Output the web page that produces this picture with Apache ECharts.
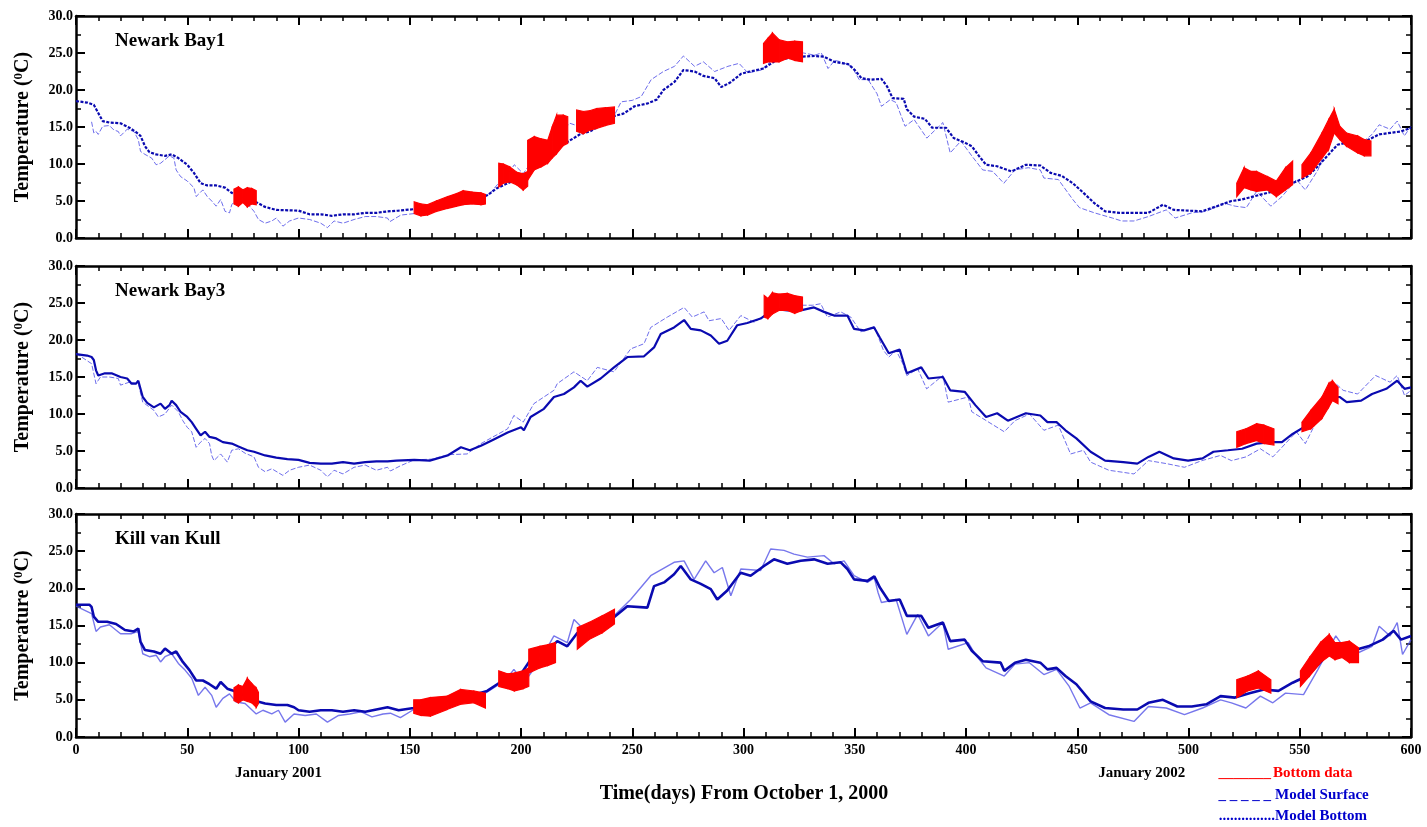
<!DOCTYPE html>
<html>
<head>
<meta charset="utf-8">
<title>Water temperature: model vs. bottom observations</title>
<script src="https://cdn.jsdelivr.net/npm/echarts@6/dist/echarts.min.js"></script>
<style>
  html, body { margin: 0; padding: 0; background: #fff; }
  #chart { width: 1427px; height: 827px; }
</style>
</head>
<body>
<div id="chart"></div>
<script>
// ---- Station names ----
const stations = ['Newark Bay1', 'Newark Bay3', 'Kill van Kull'];

// ---- Axis ticks ----
const xTicks = [0, 50, 100, 150, 200, 250, 300, 350, 400, 450, 500, 550, 600];
const yTicks = [0, 5, 10, 15, 20, 25, 30];
const monthMarks = [['January 2001', 91], ['January 2002', 479]];

// ---- Newark Bay1: [day, temperature °C] ----
const bay1Bottom = [[0,18.5],[5,18.3],[8,18.0],[10,16.9],[12,15.8],[15,15.6],[20,15.5],[24,14.9],[27,14.3],[29,13.8],[31,12.4],[33,11.6],[36,11.3],[40,11.1],[43,11.3],[46,10.8],[50,9.9],[53,8.8],[56,7.4],[59,7.1],[63,7.1],[67,6.8],[70,6.1],[75,5.5],[80,5.0],[85,4.2],[90,3.8],[100,3.7],[105,3.2],[110,3.2],[115,3.0],[120,3.2],[125,3.2],[130,3.4],[135,3.4],[140,3.6],[145,3.7],[152,3.9],[159,4.0],[167,4.6],[174,5.1],[182,5.4],[185,5.8],[189,6.7],[197,7.8],[203,8.7],[207,10.1],[212,10.8],[216,12.3],[221,13.0],[227,14.1],[231,14.4],[236,15.3],[242,16.5],[246,16.8],[251,17.8],[257,18.2],[261,18.7],[264,20.0],[269,21.1],[273,22.7],[278,22.5],[282,21.9],[287,21.6],[290,20.4],[294,21.0],[299,22.2],[303,22.5],[309,22.9],[315,24.1],[320,24.3],[326,24.5],[332,24.6],[336,24.5],[341,23.8],[347,23.5],[350,22.7],[353,21.6],[357,21.4],[362,21.5],[364.5,20.5],[367,18.9],[372,18.8],[373.4,17.4],[376.7,16.4],[381.5,16.1],[384.8,14.9],[391,14.9],[394.5,13.5],[399.4,12.9],[402.6,12.4],[405.8,11.1],[409,9.9],[414,9.7],[420.4,9.0],[427,9.9],[433.4,9.8],[438,8.8],[443,8.4],[448,7.4],[452.8,6.1],[457.7,4.7],[462.6,3.6],[469,3.4],[475.5,3.4],[482,3.4],[488.5,4.5],[493.4,3.8],[499.8,3.7],[506,3.6],[512.8,4.3],[519.3,5.0],[524,5.2],[529,5.6],[535.5,6.1],[540.4,6.5],[546.8,7.4],[553.3,8.3],[558.2,9.7],[563,11.3],[567,12.6],[571,12.9],[576,12.6],[581,13.3],[585.7,14.0],[590.6,14.2],[595.5,14.4],[600,14.9]];
const bay1Surface = [[7,15.7],[8,14.2],[9,14.4],[10,14.0],[12,15.1],[15,15.2],[17,14.6],[19,14.4],[20,13.8],[23,14.7],[26,14.4],[28,13.3],[29,11.7],[31,11.3],[34,10.8],[36,9.9],[38,10.1],[40,10.6],[42,11.1],[44,10.8],[45,9.2],[47,8.3],[50,7.7],[53,6.8],[54,5.6],[57,6.5],[59,5.6],[61,5.0],[63,4.3],[65,5.2],[67,3.6],[69,3.4],[70,4.5],[72,5.2],[75,5.0],[78,4.3],[80,3.6],[82,2.5],[85,2.0],[88,2.3],[90,2.7],[93,1.6],[96,2.3],[100,2.7],[105,2.5],[110,2.0],[113,1.4],[116,2.3],[120,2.0],[125,2.5],[130,2.9],[135,2.9],[140,2.7],[141,2.2],[146,3.1],[152,3.3],[160,4.0],[168,4.6],[176,5.2],[183,5.5],[186,6.0],[191,7.8],[194,8.6],[197,9.9],[201,8.7],[206,10.8],[212,12.6],[217,14.0],[222,15.5],[227,15.0],[232,15.6],[237,16.0],[242,16.6],[245,18.4],[250,18.6],[254,19.1],[258.5,21.4],[264,22.5],[269,23.2],[273,24.6],[278,23.2],[282,23.8],[287,22.5],[293,23.2],[298,23.6],[302,22.3],[308,22.7],[312,23.8],[320,24.5],[327,25.0],[332,24.7],[335,25.0],[338,22.9],[341,24.0],[344,23.8],[348.6,23.2],[352,21.4],[356,21.4],[360,19.5],[362,17.8],[366,18.7],[368.6,18.3],[372.6,15.1],[376.7,16.0],[382.4,13.5],[389.6,15.6],[392.9,11.5],[397.7,13.1],[402.6,11.1],[407.5,9.2],[412,9.0],[417,7.4],[422,9.2],[428,9.5],[433.4,9.2],[435,8.1],[441.5,7.9],[448,5.2],[451,4.1],[457.7,3.4],[465.8,2.7],[470,2.3],[475.5,2.3],[482,2.9],[490,3.8],[494,2.7],[501.5,3.4],[508,3.6],[516,4.7],[521,4.3],[526,4.1],[530.6,6.3],[537,4.3],[542,5.6],[548.5,7.9],[552.5,6.5],[558.2,9.2],[564.7,14.2],[569.5,13.8],[576,12.4],[582.5,14.0],[585.7,15.3],[590.6,14.7],[593.8,15.8],[597,13.8],[600,15.1]];
// observed bottom temperature: segments of [day, low, high] (tidal range)
const bay1Obs = [
  [[71,4.6,6.6],[73,4.3,6.9],[75,4.8,6.5],[77,4.2,6.8],[79,4.6,6.7],[81,4.5,6.4]],
  [[152,3.3,4.9],[155,3.0,4.6],[158,3.1,4.5],[162,3.6,5.0],[167,4.0,5.6],[171,4.3,6.0],[174,4.5,6.4],[178,4.6,6.2],[182,4.5,6.1],[184,4.6,5.9]],
  [[190,6.9,10.1],[192,7.4,10.0],[195,7.6,9.6],[198,7.2,8.9],[201,6.5,8.7],[203,7.0,9.0]],
  [[203,7.8,13.2],[206,9.2,13.7],[209,9.6,13.4],[212,10.1,13.2],[214,10.8,15.0],[216,11.4,16.6],[219,12.5,16.6],[221,12.8,16.4]],
  [[225,14.4,17.3],[228,14.1,17.1],[231,14.6,17.2],[234,14.8,17.5],[238,15.2,17.6],[242,15.5,17.7]],
  [[309,23.6,26.3],[311,23.8,27.0],[313,23.8,27.7],[316,23.8,26.8],[320,24.3,26.5],[323,24.0,26.6],[326.5,23.8,26.5]],
  [[521.7,5.6,7.4],[525,6.8,9.5],[528,6.5,9.0],[530.6,6.3,9.0],[535.5,6.5,8.3],[539.5,5.6,7.7],[543.6,6.5,9.5],[546.8,7.2,10.4]],
  [[551,8.1,9.9],[555,8.8,11.5],[560,10.8,14.2],[563,12.0,16.0],[565.5,14.2,17.4],[568,13.3,15.1],[571,12.4,14.2],[576,11.5,13.8],[579,11.1,13.3],[582,11.1,13.1]]
];

// ---- Newark Bay3 ----
const bay3Bottom = [[0,18.1],[5,17.9],[7,17.7],[8,17.3],[9,15.9],[10,15.2],[13,15.5],[16,15.5],[20,15.0],[23,14.8],[25,14.1],[27,14.1],[28,14.5],[30,12.3],[32,11.5],[35,10.9],[38,11.4],[40,10.7],[42,11.2],[43,11.8],[45,11.2],[47,10.3],[50,9.6],[52,8.9],[54,8.0],[56,7.1],[58,7.6],[60,6.9],[63,6.7],[66,6.2],[70,6.0],[73,5.6],[77,5.1],[80,4.9],[85,4.4],[90,4.1],[95,3.9],[100,3.8],[105,3.4],[110,3.3],[115,3.3],[120,3.5],[125,3.3],[130,3.5],[135,3.6],[140,3.6],[144,3.7],[152,3.8],[159,3.7],[167,4.4],[173,5.5],[177,5.1],[182,5.7],[188,6.6],[194,7.5],[200,8.2],[201.3,7.8],[204.3,9.6],[210.3,10.7],[214.8,12.3],[219.3,12.7],[223.8,13.6],[226.8,14.5],[229.8,13.7],[235.8,14.8],[241.8,16.3],[247.8,17.7],[255.3,17.8],[259.8,19.0],[262.8,20.8],[268.8,21.7],[273.3,22.7],[276.3,21.5],[280.8,21.3],[285.3,20.6],[289,19.5],[292.7,19.9],[297.2,22.0],[301.7,22.3],[307.7,22.9],[313.7,24.2],[319.7,24.0],[325.7,24.0],[331.7,24.4],[336.2,23.8],[340.7,23.3],[346.7,23.3],[349.7,21.5],[354.2,21.3],[358.7,21.7],[361.3,20.3],[365.3,18.2],[370.2,18.7],[373.4,15.5],[379.9,16.3],[383.1,14.8],[389.6,15.0],[392.9,13.2],[399.4,13.0],[404.2,11.2],[409,9.6],[414,10.1],[418.8,9.1],[426.9,10.1],[433.4,9.8],[436.6,8.9],[440.7,8.9],[444.7,7.8],[449.6,6.7],[456,4.9],[462.5,3.7],[470.7,3.5],[477,3.3],[482,4.2],[486.9,4.9],[493.4,4.0],[499.8,3.7],[506.3,4.0],[511.2,4.9],[517.7,5.1],[524.1,5.3],[530.6,6.0],[537.1,6.2],[542,6.2],[546.8,7.3],[553.3,8.5],[559.8,10.0],[564.6,12.3],[567.9,12.3],[571.1,11.6],[577.6,11.8],[582.5,12.7],[588.9,13.4],[593.8,14.5],[597.1,13.4],[600,13.6]];
const bay3Surface = [[0,18.2],[7,16.8],[9,14.1],[11,15.0],[15,15.0],[19,14.8],[20,13.9],[24,14.3],[28,14.1],[30,11.6],[35,10.5],[37,9.6],[40,10.0],[43,11.2],[46,10.3],[48,9.1],[50,8.2],[52,7.6],[54,5.5],[56,6.2],[58,6.7],[60,6.0],[61,4.4],[62,3.7],[65,4.6],[68,3.5],[70,5.1],[73,5.3],[76,4.7],[80,4.2],[82,2.8],[85,2.2],[88,2.6],[93,1.7],[96,2.4],[100,2.8],[105,3.1],[110,2.4],[113,1.5],[116,2.4],[120,1.9],[125,2.8],[130,3.1],[135,2.4],[140,2.8],[141.3,2.3],[145.8,3.0],[152,3.8],[160,3.9],[167,4.5],[175.8,4.6],[182,6.0],[194,8.0],[196.8,9.8],[201,8.9],[205.8,11.4],[214.8,13.2],[216.3,14.1],[223.8,15.7],[229.8,14.5],[234.3,16.3],[241.8,15.7],[249.3,18.8],[255.3,19.5],[258.3,21.7],[265.8,23.1],[273.3,24.4],[277,23.1],[282.3,23.8],[284.5,22.6],[290,22.9],[293.5,21.3],[298.8,23.3],[304.8,22.4],[309.3,23.3],[317,24.4],[326,24.7],[331,24.7],[334.7,24.9],[337.7,23.1],[343.7,23.8],[348.2,23.1],[352.7,21.1],[358.8,21.8],[362.9,18.6],[365.3,17.7],[368.6,18.6],[371.6,16.8],[373.4,15.2],[378.3,16.1],[382.3,13.4],[389.6,15.2],[392,11.6],[401,12.3],[402.6,10.3],[407.5,9.4],[417.2,7.6],[422,9.1],[428.5,10.0],[435,7.8],[441.5,8.5],[447,4.6],[452.8,5.1],[456,3.5],[464.2,2.4],[475.5,1.9],[482,3.7],[490,3.3],[498.2,2.8],[506,3.7],[514.4,4.4],[519.3,3.7],[525.8,4.2],[532.3,5.3],[537.9,4.2],[542,5.5],[548.5,7.6],[552.5,6.0],[558.2,9.4],[566.2,14.1],[569.5,13.2],[576,12.7],[584.1,15.2],[590.6,14.3],[593.8,15.2],[597.1,12.5],[600,13.2]];
const bay3Obs = [
  [[309.3,23.1,26.0],[311,22.9,25.6],[313,23.5,26.4],[316,24.0,26.2],[319.7,24.0,26.3],[323,23.6,26.0],[326.5,24.0,25.8]],
  [[521.7,5.5,7.6],[525.8,6.0,8.0],[530.6,6.4,8.7],[533.9,6.0,8.5],[538.4,5.8,8.0]],
  [[551,7.6,8.9],[555,8.0,10.5],[560,9.4,12.3],[563,10.9,14.1],[564.7,11.8,14.5],[567.2,11.4,13.6]]
];

// ---- Kill van Kull ----
const kvkBottom = [[0,17.8],[6,17.8],[7,17.5],[8,16.2],[10,15.5],[14,15.5],[18,15.2],[22,14.4],[26,14.2],[28,14.6],[29,12.8],[31,11.7],[35,11.5],[38,11.2],[40,11.9],[43,11.2],[45,11.5],[48,10.1],[51,9.0],[54,7.6],[57,7.6],[60,7.1],[63,6.5],[65,7.4],[68,6.5],[70,6.3],[74,5.8],[80,4.9],[85,4.5],[90,4.3],[95,4.3],[98,4.0],[100,3.6],[105,3.4],[110,3.6],[115,3.6],[120,3.4],[125,3.6],[130,3.4],[135,3.7],[140,4.0],[145,3.6],[151.8,3.9],[166.8,4.8],[178.8,5.7],[184.8,6.2],[189.3,7.1],[193.8,8.0],[199.8,8.4],[204.3,10.4],[211.8,11.6],[216.3,12.9],[220.8,12.2],[225.3,14.0],[232.8,14.7],[241.8,16.1],[247.8,17.6],[256.8,17.4],[259.8,20.3],[264.3,20.8],[268.8,21.9],[271.8,23.0],[276.3,21.2],[280.8,20.6],[285.3,19.9],[288.2,18.5],[292.7,19.7],[298.7,22.1],[303.2,21.7],[309.2,23.0],[313.7,23.9],[319.7,23.3],[325.7,23.7],[331.7,23.9],[337.8,23.3],[343.7,23.5],[346.7,22.6],[349.7,21.2],[355.7,21.0],[358.8,21.6],[361.3,20.1],[365.3,18.3],[370.2,18.5],[373.4,16.3],[379.9,16.3],[383.1,14.7],[389.6,15.4],[392.9,12.9],[399.4,13.1],[402.6,11.6],[407.5,10.2],[415.6,10.0],[417.2,8.9],[422,10.0],[426.9,10.4],[433.4,10.0],[436.6,9.1],[440.7,9.3],[444.7,8.2],[449.6,7.1],[456,4.8],[462.5,3.9],[470.7,3.7],[477,3.7],[482,4.6],[488.5,5.0],[495,4.1],[501.5,4.1],[508,4.4],[514.4,5.5],[520.9,5.3],[527.4,5.9],[533.9,6.4],[540.4,6.2],[546.8,7.3],[553.3,8.2],[559.8,10.2],[564.7,12.2],[569.5,11.8],[576,11.8],[580.8,12.2],[587.3,13.1],[592.2,14.3],[595.5,13.1],[600,13.6]];
const kvkSurface = [[0,17.6],[7,16.6],[9,14.2],[11,14.8],[15,15.1],[20,13.9],[25,13.9],[28,14.2],[30,11.2],[33,10.8],[36,11.0],[38,10.1],[40,10.8],[43,11.2],[46,9.9],[49,9.0],[52,7.9],[55,5.6],[58,6.7],[61,5.6],[63,4.0],[66,5.2],[69,5.8],[72,4.7],[76,4.5],[81,3.1],[84,3.6],[88,3.1],[91,3.6],[94,2.0],[98,3.1],[103,2.9],[108,3.1],[113,2.0],[118,2.9],[123,3.1],[128,3.4],[133,2.7],[138,3.1],[141.3,3.2],[145.8,2.6],[151.8,3.7],[159.3,3.0],[170,4.5],[181.8,5.5],[193,7.6],[196.8,9.1],[201.3,7.3],[209,10.5],[214.8,13.6],[220.8,12.7],[223.8,15.8],[229.8,14.0],[241.8,16.3],[249.3,18.5],[258.3,21.7],[268.8,23.5],[273.3,23.7],[277.8,21.2],[283,23.7],[286.8,22.1],[290.5,22.8],[294.3,19.0],[298.8,22.6],[307.7,22.4],[312.2,25.3],[318.2,25.1],[322.7,24.6],[328.7,24.2],[336.2,24.4],[340.7,23.3],[345.2,23.7],[349.7,21.7],[355.7,20.8],[358.8,21.4],[360.5,19.4],[362,18.1],[368.6,18.5],[373.4,13.8],[378.3,16.5],[383.1,13.6],[389.6,15.4],[392,11.8],[401,12.7],[404.2,11.1],[409,9.3],[417.2,8.2],[422,9.8],[428.5,10.0],[435,8.4],[440.7,9.1],[446.4,6.8],[451.2,3.9],[456,4.6],[464.2,3.0],[475.5,2.1],[482,4.1],[490,3.9],[498.2,3.0],[506.3,3.9],[514.4,5.0],[519.3,4.6],[525.8,3.9],[532.3,5.5],[537.9,4.6],[543.6,5.9],[551.7,5.7],[558.2,9.1],[566.2,13.6],[569.5,12.2],[576,11.3],[582.5,12.2],[585.7,14.9],[590.6,13.6],[593.8,15.4],[596.2,11.1],[600,13.1]];
const kvkObs = [
  [[71,4.9,6.6],[73,4.6,7.0],[75,5.0,6.8],[77,4.8,7.9],[79,4.6,7.2],[81,4.0,6.6],[82,4.5,6.0]],
  [[151.8,3.2,5.0],[155,2.9,5.0],[159.3,2.8,5.3],[166.8,3.7,5.5],[172.8,4.4,6.4],[178.8,4.6,6.2],[184,3.9,5.9]],
  [[190,6.8,8.9],[194,6.5,8.5],[197,6.2,8.6],[201,6.5,8.9],[203.5,6.8,9.3]],
  [[203.5,8.6,11.8],[208.5,9.3,12.2],[212,9.6,12.4],[215.5,10.0,12.7]],
  [[225.3,11.8,14.7],[230.5,13.1,15.4],[236.5,14.0,16.3],[242,15.2,17.2]],
  [[521.7,5.3,7.7],[526.5,6.2,8.2],[531.4,6.6,8.9],[537,5.9,7.7]],
  [[550.3,6.8,8.9],[554.4,8.2,10.7],[559.3,10.0,12.7],[563.3,10.9,13.8],[565.8,10.4,12.7],[569,10.7,12.7],[572.3,10.0,12.9],[576.4,10.0,12.0]]
];

const panels = [
  { name: stations[0], bottom: bay1Bottom, surface: bay1Surface, obs: bay1Obs },
  { name: stations[1], bottom: bay3Bottom, surface: bay3Surface, obs: bay3Obs },
  { name: stations[2], bottom: kvkBottom, surface: kvkSurface, obs: kvkObs }
];

// ---- layout / styling ----
const SERIF = '"Liberation Serif", "Times New Roman", serif';
const RED = '#ff0000';
const DARK_BLUE = '#0a0ab0';
const LIGHT_BLUE = '#4a4ae6';
const frame = [{ top: 16, height: 222 }, { top: 266, height: 222 }, { top: 514, height: 223 }];
const bottomStyle = [
  { width: 2.2, type: [3, 1.5] },
  { width: 2.2, type: 'solid' },
  { width: 2.6, type: 'solid' }
];
const surfaceStyle = [
  { width: 1, type: [5, 2], opacity: 0.8 },
  { width: 1, type: [5, 2], opacity: 0.8 },
  { width: 1.4, type: 'solid', opacity: 0.75 }
];

const tickCommon = {
  axisLine: { show: true, onZero: false, lineStyle: { color: '#000', width: 2.5 } },
  axisTick: { show: true, inside: true, length: 9, lineStyle: { color: '#000', width: 2 } },
  minorTick: { show: true, length: 5, lineStyle: { color: '#000', width: 1.5 } },
  splitLine: { show: false },
  minorSplitLine: { show: false }
};

const grid = [], xAxis = [], yAxis = [], series = [], title = [];

panels.forEach((p, i) => {
  grid.push({ left: 76, right: 16, top: frame[i].top, height: frame[i].height, containLabel: false });

  const xBase = {
    gridIndex: i, type: 'value', min: xTicks[0], max: xTicks[xTicks.length - 1],
    interval: xTicks[1] - xTicks[0], ...tickCommon,
    minorTick: { ...tickCommon.minorTick, splitNumber: 5 }
  };
  xAxis.push({
    ...xBase, position: 'bottom',
    axisLabel: {
      show: i === panels.length - 1, margin: 6,
      color: '#000', fontFamily: SERIF, fontWeight: 'bold', fontSize: 14
    }
  });
  xAxis.push({ ...xBase, position: 'top', axisLabel: { show: false } });

  const yBase = {
    gridIndex: i, type: 'value', min: yTicks[0], max: yTicks[yTicks.length - 1],
    interval: yTicks[1] - yTicks[0], ...tickCommon,
    minorTick: { ...tickCommon.minorTick, splitNumber: 2 }
  };
  yAxis.push({
    ...yBase, position: 'left',
    axisLabel: {
      margin: 3, color: '#000', fontFamily: SERIF, fontWeight: 'bold', fontSize: 14,
      formatter: v => v.toFixed(1)
    },
    name: '{t|Temperature (}{s|0}{t|C)}',
    nameLocation: 'middle', nameGap: 42, nameRotate: 90,
    nameTextStyle: {
      rich: {
        t: { fontFamily: SERIF, fontWeight: 'bold', fontSize: 20, color: '#000', lineHeight: 22 },
        s: { fontFamily: SERIF, fontWeight: 'bold', fontSize: 13, color: '#000', verticalAlign: 'top', lineHeight: 13, padding: [0, 0, 7, 0] }
      }
    }
  });
  yAxis.push({ ...yBase, position: 'right', axisLabel: { show: false } });

  title.push({
    text: p.name, left: 110, top: frame[i].top + 11,
    textStyle: { fontFamily: SERIF, fontWeight: 'bold', fontSize: 19, color: '#000' }
  });

  const xi = i * 2, yi = i * 2;
  series.push({
    name: 'Model Surface', type: 'line', xAxisIndex: xi, yAxisIndex: yi,
    data: p.surface, showSymbol: false, symbol: 'none', z: 2,
    lineStyle: { color: LIGHT_BLUE, ...surfaceStyle[i] }
  });
  series.push({
    name: 'Model Bottom', type: 'line', xAxisIndex: xi, yAxisIndex: yi,
    data: p.bottom, showSymbol: false, symbol: 'none', z: 3,
    lineStyle: { color: DARK_BLUE, ...bottomStyle[i] }
  });

  // observed tidal range drawn as a filled band per record segment
  const flat = [];
  p.obs.forEach((seg, s) => seg.forEach(pt => flat.push([pt[0], pt[1], pt[2], s])));
  series.push({
    name: 'Bottom data', type: 'custom', xAxisIndex: xi, yAxisIndex: yi, z: 5,
    data: flat, encode: { x: 0, y: [1, 2] },
    renderItem: (params, api) => {
      const cur = flat[params.dataIndex];
      const nxt = flat[params.dataIndex + 1];
      if (!nxt || nxt[3] !== cur[3]) return null;
      const pts = [
        api.coord([cur[0], cur[1]]), api.coord([cur[0], cur[2]]),
        api.coord([nxt[0], nxt[2]]), api.coord([nxt[0], nxt[1]])
      ];
      return { type: 'polygon', shape: { points: pts }, style: { fill: RED, stroke: RED, lineWidth: 1.2 } };
    }
  });
});

// x position (px) of a day on the shared time axis
const dayToPx = d => 76 + (1411 - 76) * d / 600;

const labelFont = { fontFamily: SERIF, fontWeight: 'bold', fontSize: 15 };
const graphic = [
  ...monthMarks.map(([txt, day]) => ({
    type: 'text', x: dayToPx(day), y: 773,
    style: { text: txt, ...labelFont, fill: '#000', align: 'center', verticalAlign: 'middle' }
  })),
  {
    type: 'text', x: 744, y: 794,
    style: { text: 'Time(days) From October 1, 2000', fontFamily: SERIF, fontWeight: 'bold', fontSize: 20, fill: '#000', align: 'center', verticalAlign: 'middle' }
  },
  // legend
  { type: 'text', x: 1271, y: 773, style: { text: '_______', ...labelFont, fill: RED, align: 'right', verticalAlign: 'middle' } },
  { type: 'text', x: 1273, y: 773, style: { text: 'Bottom data', ...labelFont, fill: RED, align: 'left', verticalAlign: 'middle' } },
  { type: 'text', x: 1271, y: 795, style: { text: '_ _ _ _ _', ...labelFont, fill: '#0000cc', align: 'right', verticalAlign: 'middle' } },
  { type: 'text', x: 1275, y: 795, style: { text: 'Model Surface', ...labelFont, fill: '#0000cc', align: 'left', verticalAlign: 'middle' } },
  { type: 'text', x: 1275, y: 816, style: { text: '...............', ...labelFont, fill: '#0000cc', align: 'right', verticalAlign: 'middle' } },
  { type: 'text', x: 1275, y: 816, style: { text: 'Model Bottom', ...labelFont, fill: '#0000cc', align: 'left', verticalAlign: 'middle' } }
];

const chart = echarts.init(document.getElementById('chart'), null, { renderer: 'canvas' });
chart.setOption({
  animation: false,
  backgroundColor: '#fff',
  title, grid, xAxis, yAxis, series, graphic
});
</script>
</body>
</html>
